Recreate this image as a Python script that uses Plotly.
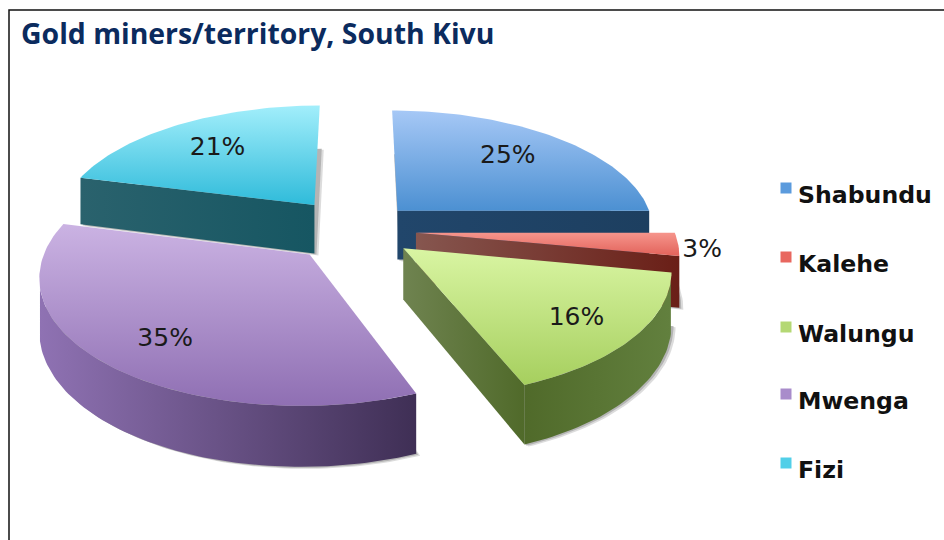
import math
import plotly.graph_objects as go

CATEGORIES = ["Shabundu", "Kalehe", "Walungu", "Mwenga", "Fizi"]
VALUES = [25, 3, 16, 35, 21]
TITLE = "Gold miners/territory, South Kivu"

TOP_LIGHT = ["#a6c8f6", "#f6958c", "#d9f5a3", "#cbb3e3", "#a2eefb"]
TOP_DARK = ["#4c90d2", "#e2625a", "#a6cf5e", "#8f6fb3", "#2fbbda"]
CUT_A = ["#21466b", "#86564f", "#6f8350", "#9274b6", "#2a626d"]
CUT_B = ["#1d3f60", "#6a1f17", "#506a2a", "#3f2f55", "#165662"]
OUTER_A = ["#1d3f60", "#6a1f17", "#506a2a", "#8f72b3", "#2a626d"]
OUTER_B = ["#1d3f60", "#6a1f17", "#62803e", "#3f2f55", "#165662"]
LEGEND_COLORS = ["#5b9bdd", "#e8675f", "#b4d874", "#a98ccb", "#52cfe8"]
LABEL_FRAC = [0.68, 1.09, 0.77, 0.73, 0.70]
LABEL_DY = [-2, 5, 4, 9, 2]
PULLS = [60, 60, 60, 68, 70]
RADII = [258, 258, 258, 258, 260]
DRAW_ORDER = [4, 0, 1, 3, 2]

# perspective pie geometry (pixels)
R0, DEPTH = 258, 50
VX, VY, TILT, PERSP = 356, 230, 0.467, 0.15
LEGEND_MARK_X, LEGEND_TEXT_X = 786, 798
LEGEND_Y = [188, 257, 327, 394, 463]
LEGEND_TEXT_DY = 9
SHADOWS = [(4, 2, "#dcdcdc"), (2, 1, "#b4b4b4")]


def project(X, Y, depth=0):
    s = 1 / (1 + PERSP * Y / R0)
    return VX + X * s, VY - TILT * Y * s + depth * s


def slice_point(i, mid, a, r):
    return (PULLS[i] * math.sin(mid) + r * math.sin(a), PULLS[i] * math.cos(mid) + r * math.cos(a))


total = sum(VALUES)
traces = []
poly = {}
acc = 0
mids = []
for i, v in enumerate(VALUES):
    a0 = 2 * math.pi * acc / total
    a1 = 2 * math.pi * (acc + v) / total
    acc += v
    mid = (a0 + a1) / 2
    mids.append(mid)
    n = max(4, int(v * 3))
    arc = [a0 + (a1 - a0) * k / n for k in range(n + 1)]
    poly[i] = [slice_point(i, mid, 0, 0)] + [slice_point(i, mid, a, RADII[i]) for a in arc]


def add_poly(xs, ys, kind, c0, c1):
    traces.append(go.Scatter(
        x=xs + xs[:1], y=ys + ys[:1], mode="lines", line=dict(width=0), fill="toself",
        fillgradient=dict(type=kind, colorscale=[[0, c0], [1, c1]]),
        hoverinfo="skip", showlegend=False))


def wall(points, c0, c1):
    top = [project(*p) for p in points]
    bottom = [project(*p, DEPTH) for p in points]
    xs = [p[0] for p in top] + [p[0] for p in bottom[::-1]]
    ys = [p[1] for p in top] + [p[1] for p in bottom[::-1]]
    add_poly(xs, ys, "horizontal", c0, c1)


for i in DRAW_ORDER:
    pts = poly[i]
    scr = [project(*p) for p in pts]
    gx = sum(p[0] for p in scr) / len(scr)
    gy = sum(p[1] for p in scr) / len(scr)

    def faces_viewer(a, b):
        dx, dy = b[0] - a[0], b[1] - a[1]
        nx, ny = dy, -dx
        mx, my = (a[0] + b[0]) / 2, (a[1] + b[1]) / 2
        if nx * (mx - gx) + ny * (my - gy) < 0:
            nx, ny = -nx, -ny
        return ny > 0.15 * math.hypot(nx, ny)

    # soft shadow of the slice's underside
    base = [project(*p, DEPTH) for p in pts]
    for sx, sy, col in SHADOWS:
        add_poly([p[0] + sx for p in base], [p[1] + sy for p in base], "vertical", col, col)
    # straight cut faces
    if faces_viewer(scr[0], scr[1]):
        wall([pts[0], pts[1]], CUT_A[i], CUT_B[i])
    if faces_viewer(scr[0], scr[-1]):
        wall([pts[0], pts[-1]], CUT_A[i], CUT_B[i])
    # curved outer face
    run = [k for k in range(1, len(pts) - 1) if faces_viewer(scr[k], scr[k + 1])]
    if run:
        wall(pts[run[0]:run[-1] + 2], OUTER_A[i], OUTER_B[i])
    # top face
    add_poly([p[0] for p in scr], [p[1] for p in scr], "vertical", TOP_DARK[i], TOP_LIGHT[i])

# percentage labels
for i, v in enumerate(VALUES):
    lx, ly = project(*slice_point(i, mids[i], mids[i], RADII[i] * LABEL_FRAC[i]))
    traces.append(go.Scatter(
        x=[lx], y=[ly + LABEL_DY[i]], mode="text", text=[f"{v}%"], textposition="middle center",
        textfont=dict(family="DejaVu Sans", size=25, color="#1a1a1a"),
        hoverinfo="skip", showlegend=False))

# legend column
for i, name in enumerate(CATEGORIES):
    traces.append(go.Scatter(
        x=[LEGEND_MARK_X], y=[LEGEND_Y[i]], mode="markers", name=name,
        marker=dict(symbol="square", size=11, color=LEGEND_COLORS[i]),
        hoverinfo="name", showlegend=False))
    traces.append(go.Scatter(
        x=[LEGEND_TEXT_X], y=[LEGEND_Y[i] + LEGEND_TEXT_DY], mode="text",
        text=[f"<b>{name}</b>"], textposition="middle right",
        textfont=dict(family="DejaVu Sans", size=23.6, color="#111111"),
        hoverinfo="skip", showlegend=False))

fig = go.Figure(traces)
fig.update_layout(
    width=944, height=540, margin=dict(l=0, r=0, t=0, b=0),
    paper_bgcolor="white", plot_bgcolor="white",
    title=dict(text=f"<b>{TITLE}</b>", x=21 / 944, xanchor="left", y=1 - 34 / 540, yanchor="middle",
               font=dict(family="Open Sans", size=28.4, color="#0b2b5e")),
    xaxis=dict(visible=False, range=[0, 944], fixedrange=True),
    yaxis=dict(visible=False, range=[540, 0], fixedrange=True),
    shapes=[dict(type="rect", xref="x", yref="y", x0=9, y0=10, x1=1000, y1=600,
                 line=dict(color="#111111", width=1.5), layer="below")],
)
fig.write_html("out.html", config={"displayModeBar": False},
               post_script="document.body.style.margin='0';")
